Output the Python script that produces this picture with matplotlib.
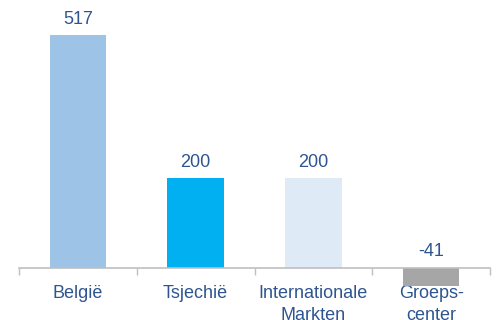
#!/usr/bin/env python3
import matplotlib
matplotlib.use('Agg')
import matplotlib.pyplot as plt
import numpy as np

categories = ['België', 'Tsjechië', 'Internationale\nMarkten', 'Groeps-\ncenter']
values = [517, 200, 200, -41]
value_labels = ['517', '200', '200', '-41']

bar_colors = ['#9DC3E6', '#00B0F0', '#DEEBF7', '#A6A6A6']
text_color = '#2E5590'
axis_color = '#BFBFBF'
text_size = 13

plt.rcParams['font.family'] = ['Liberation Sans', 'DejaVu Sans']


def main():
  fig = plt.figure(figsize=(4.97, 3.2), dpi=100)
  ax = fig.add_axes([19 / 497, 20 / 320, 471 / 497, 300 / 320])

  x = np.arange(len(categories))
  ax.bar(x, values, width=0.48, color=bar_colors, zorder=2)

  for xi, val, lab in zip(x, values, value_labels):
    y = max(val, 0)
    ax.annotate(lab, (xi, y), xytext=(0, 5.5 if val < 0 else 4.5),
                textcoords='offset points', ha='center', va='bottom',
                color=text_color, fontsize=text_size)

  ax.set_xlim(-0.5, len(categories) - 0.5)
  ax.set_ylim(-71, 594)

  for side in ['top', 'left', 'right']:
    ax.spines[side].set_visible(False)
  ax.spines['bottom'].set_position(('data', 0))
  ax.spines['bottom'].set_color(axis_color)
  ax.spines['bottom'].set_linewidth(1.2)
  ax.spines['bottom'].set_zorder(3)

  ax.set_yticks([])
  ax.set_xticks(x)
  ax.set_xticklabels(categories, color=text_color, fontsize=text_size,
                     linespacing=1.42)
  ax.tick_params(axis='x', which='major', length=0, pad=12)
  ax.set_xticks(np.arange(-0.5, len(categories)), minor=True)
  ax.tick_params(axis='x', which='minor', length=5, width=1.0,
                 color=axis_color, direction='out')

  fig.savefig('out.png', dpi=100)


if __name__ == '__main__':
  main()
